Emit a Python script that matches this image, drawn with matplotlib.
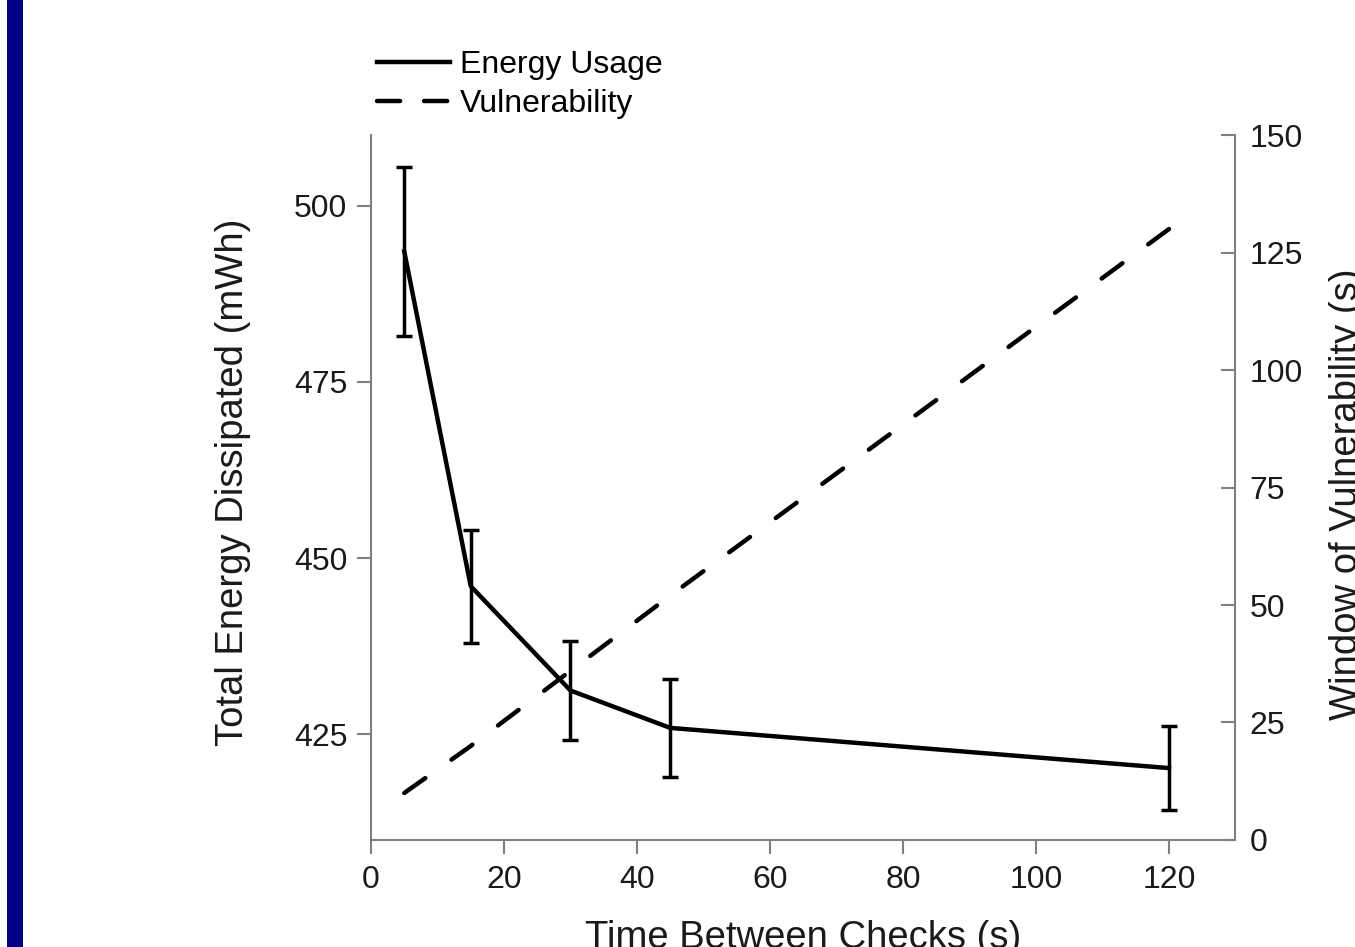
import matplotlib
matplotlib.use('Agg')
import matplotlib.pyplot as plt
from matplotlib.lines import Line2D
from matplotlib.patches import Rectangle

plt.rcParams['font.family'] = ['Liberation Sans', 'DejaVu Sans']

# values
check_interval = [5, 15, 30, 45, 120]          # Time between checks (s)
energy_mwh = [493.5, 446.0, 431.2, 425.9, 420.2]
energy_err = [12, 8, 7, 7, 6]
vulnerability_s = [10, 20, 36, 52, 130]

x_ticks = [0, 20, 40, 60, 80, 100, 120]
energy_ticks = [425, 450, 475, 500]
vuln_ticks = [0, 25, 50, 75, 100, 125, 150]

spine_grey = '#808080'
text_col = '#1a1a1a'

fig = plt.figure(figsize=(13.55, 9.47), dpi=100)

# navy strip down the left edge
fig.patches.append(Rectangle((7 / 1355, 0), 16 / 1355, 1, transform=fig.transFigure,
                             facecolor='#000080', edgecolor='none'))

ax = fig.add_axes([0.2738, 0.1130, 0.638, 0.7444])
ax2 = ax.twinx()

# energy usage with error bars
ax.errorbar(check_interval, energy_mwh, yerr=energy_err, color='black', lw=3.2,
            elinewidth=2.5, capsize=6, capthick=2.5)

# window of vulnerability (right axis)
ax2.plot(check_interval, vulnerability_s, color='black', lw=3.2,
         dashes=(5.8, 7.2), dash_capstyle='round')

ax.set_xlim(0, 130)
ax.set_ylim(410, 510)
ax2.set_ylim(0, 150)
ax.set_xticks(x_ticks)
ax.set_yticks(energy_ticks)
ax2.set_yticks(vuln_ticks)

for a in (ax, ax2):
    a.spines['top'].set_visible(False)
    for s in a.spines.values():
        s.set_color(spine_grey)
        s.set_linewidth(1.5)
ax.spines['right'].set_visible(False)
ax2.spines['left'].set_visible(False)
ax2.spines['bottom'].set_visible(False)

ax.tick_params(axis='both', direction='out', length=10, width=1.5, color=spine_grey,
               labelsize=23, labelcolor=text_col)
ax.tick_params(axis='y', pad=7)
ax.tick_params(axis='x', pad=8)
ax2.tick_params(axis='y', direction='in', length=10, width=1.5, color=spine_grey,
                labelsize=23, labelcolor=text_col, pad=10)

ax.set_xlabel('Time Between Checks (s)', fontsize=27.5, color=text_col)
ax.xaxis.set_label_coords(0.5, -0.1135)
ax.set_ylabel('Total Energy Dissipated (mWh)', fontsize=27.5, color=text_col)
ax.yaxis.set_label_coords(-0.139, 0.507)
ax2.set_ylabel('Window of Vulnerability (s)', fontsize=27.5, color=text_col)
ax2.yaxis.set_label_coords(1.108, 0.49)

# legend above the plot, top left
h_energy = Line2D([], [], color='black', lw=3.2)
h_vuln = Line2D([], [], color='black', lw=3.2, dashes=(5.2, 5.4), dash_capstyle='round')
fig.legend([h_energy, h_vuln], ['Energy Usage', 'Vulnerability'], loc='upper left',
           bbox_to_anchor=(377 / 1355, 1 - 50 / 947), frameon=False, fontsize=23,
           handlelength=2.29, handletextpad=0.31, labelspacing=0.29,
           borderpad=0, borderaxespad=0)

fig.savefig('out.png', dpi=100)
